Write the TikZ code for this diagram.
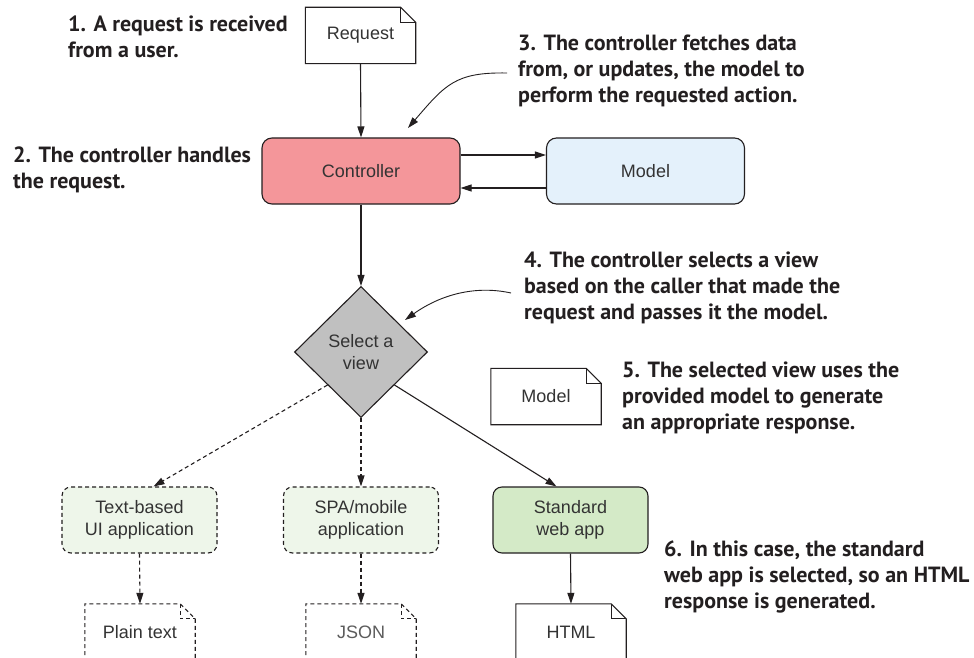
\documentclass[tikz,border=0pt]{standalone}
\usepackage{fontspec}
\setmainfont{Liberation Sans}
\newfontfamily\lblfont{PT Sans}
\usetikzlibrary{arrows.meta,shapes.geometric}
\definecolor{ink}{HTML}{231F20}
\definecolor{txt}{HTML}{333333}
\definecolor{ctrlfill}{HTML}{F4969A}
\definecolor{modelfill}{HTML}{E4F1FB}
\definecolor{palegreen}{HTML}{EEF6EA}
\definecolor{webfill}{HTML}{D4EAC7}
\definecolor{diafill}{HTML}{C0C0C0}
\newcommand\mydoc[1]{%
  \draw[ink,line width=1.1pt] (#1.south west) -- (#1.north west) -- ([xshift=-15pt]#1.north east) -- ([yshift=-15pt]#1.north east) -- (#1.south east) -- cycle;
  \draw[ink,line width=1.1pt] ([xshift=-15pt]#1.north east) |- ([yshift=-15pt]#1.north east);}
\newcommand\myopendoc[2][]{%
  \draw[ink,line width=1.1pt,#1] ([yshift=-30pt]#2.south west) -- (#2.north west) -- ([xshift=-15pt]#2.north east) -- ([yshift=-15pt]#2.north east) -- ([yshift=-30pt]#2.south east);
  \draw[ink,line width=1.1pt,#1] ([xshift=-15pt]#2.north east) |- ([yshift=-15pt]#2.north east);}
\begin{document}
\begin{tikzpicture}[x=1pt,y=-1pt,
  nodetext/.style={font=\fontsize{18}{22}\selectfont, text=txt, align=center},
  bigbox/.style={nodetext, draw=ink, line width=1.1pt, rounded corners=10pt, minimum width=198pt, minimum height=66pt, inner sep=0pt},
  subbox/.style={nodetext, draw=ink, line width=1.1pt, rounded corners=9pt, minimum width=155pt, minimum height=66pt, inner sep=0pt},
  docnode/.style={nodetext, minimum width=110pt, minimum height=56pt, inner sep=0pt},
  lbl/.style={font=\lblfont\bfseries\fontsize{22}{26}\selectfont, text=ink, align=left, anchor=north west, inner sep=0pt},
  conn/.style={draw=ink, line width=1.1pt, -{Triangle[length=11pt,width=7pt]}},
  dconn/.style={conn, dashed, dash pattern=on 4pt off 3pt}]
\useasboundingbox (0,0) rectangle (974,658);
\clip (0,0) rectangle (974,658);
\fill[white] (0,0) rectangle (974,658);

% nodes
\node[docnode] (req) at (360.5,35.5) {Request};
\node[bigbox, fill=ctrlfill] (ctrl) at (361,171) {Controller};
\node[bigbox, fill=modelfill] (model) at (645.5,171) {Model};
\node[diamond, draw=ink, line width=1.1pt, fill=diafill, minimum width=133pt, minimum height=131pt, inner sep=0pt, nodetext] (sel) at (361,352) {Select a\\view};
\node[docnode] (mdoc) at (546,396.5) {Model};
\node[subbox, dashed, dash pattern=on 4pt off 3pt, fill=palegreen] (tb) at (139.5,520) {Text-based\\UI application};
\node[subbox, dashed, dash pattern=on 4pt off 3pt, fill=palegreen] (spa) at (361,520) {SPA/mobile\\application};
\node[subbox, fill=webfill] (web) at (570.5,520) {Standard\\web app};
\node[docnode] (plain) at (140,632) {Plain text};
\node[docnode, text=txt!80] (json) at (361,632) {JSON};
\node[docnode] (html) at (571,632) {HTML};

% document outlines
\mydoc{req}
\mydoc{mdoc}
\myopendoc[dashed, dash pattern=on 4pt off 3pt]{plain}
\myopendoc[dashed, dash pattern=on 4pt off 3pt]{json}
\myopendoc{html}

% annotations
\node[lbl] (a1) at (68,16) {1. A request is received\\from a user.};
\node[lbl] (a2) at (13,147) {2. The controller handles\\the request.};
\node[lbl] (a3) at (518,35) {3. The controller fetches data\\from, or updates, the model to\\perform the requested action.};
\node[lbl] (a4) at (524,252) {4. The controller selects a view\\based on the caller that made the\\request and passes it the model.};
\node[lbl] (a5) at (622,362) {5. The selected view uses the\\provided model to generate\\an appropriate response.};
\node[lbl] (a6) at (664,541) {6. In this case, the standard\\web app is selected, so an HTML\\response is generated.};

% connectors
\draw[conn] (req.south) -- (ctrl.north);
\draw[conn] ([yshift=16pt]ctrl.east) -- ([yshift=16pt]model.west);
\draw[conn] ([yshift=-17pt]model.west) -- ([yshift=-17pt]ctrl.east);
\draw[conn] (ctrl.south) -- (sel.north);
\draw[dconn] (sel.south west) -- ([xshift=14pt]tb.north);
\draw[dconn] (sel.south) -- (spa.north);
\draw[conn] (sel.south east) -- ([xshift=-14pt]web.north);
\draw[dconn] (tb.south) -- (plain.north);
\draw[dconn] (spa.south) -- (json.north);
\draw[conn] (web.south) -- (html.north);

% annotation pointers
\coordinate (s3) at (507,73);
\coordinate (t3) at (408,128);
\draw[ink, line width=0.9pt, -{Triangle[length=11pt,width=7pt]}] (s3) .. controls (455,72) and (445,85) .. (t3);
\coordinate (s4) at (511,293);
\coordinate (t4) at (405,320);
\draw[ink, line width=0.9pt, -{Triangle[length=11pt,width=7pt]}] (s4) .. controls (475,285) and (440,295) .. (t4);
\end{tikzpicture}
\end{document}
